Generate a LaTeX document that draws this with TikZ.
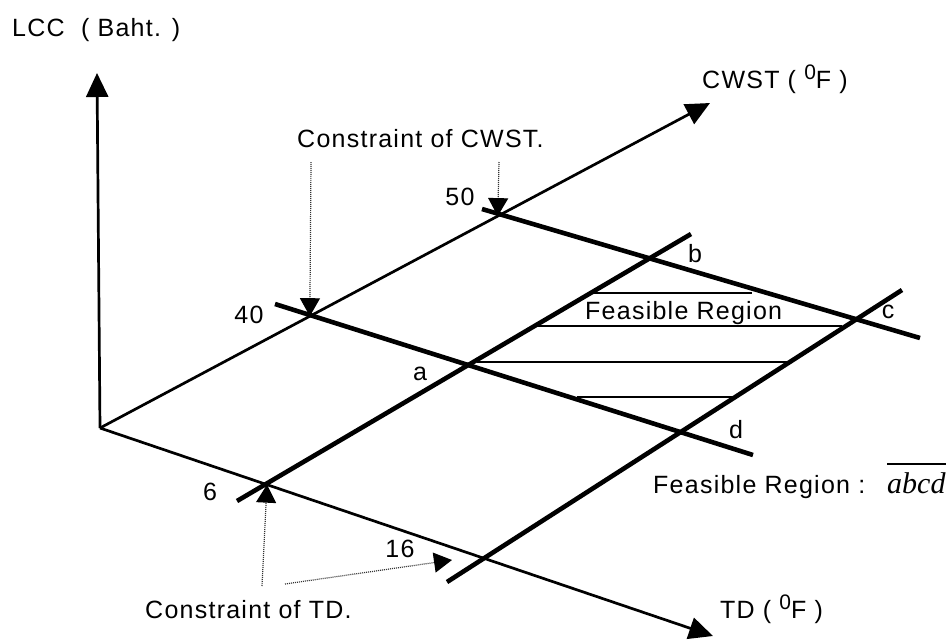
\documentclass[tikz,border=0pt]{standalone}
\usepackage{fontspec}
\setmainfont{Liberation Sans}[LetterSpace=5]
\newfontfamily\abcdfont{Liberation Serif}
\usetikzlibrary{arrows.meta,calc}

% raised degree-style zero used in the unit labels
\newcommand\degzero{\raisebox{9pt}{\fontsize{21}{21}\selectfont 0}}

\begin{document}
\begin{tikzpicture}[x=1pt,y=-1pt,
  axis/.style={line width=2.7pt},
  axisarrow/.style={axis,-{Triangle[length=24pt,width=22pt]}},
  bound/.style={line width=4.6pt},
  hatch/.style={line width=1.8pt},
  leader/.style={line width=1.2pt,black!80,dash pattern=on 1pt off 1pt,
                 -{Triangle[length=18pt,width=20pt,color=black]}},
  lbl/.style={inner sep=0pt,anchor=base west,font=\fontsize{25}{30}\selectfont},
  tick/.style={inner sep=0pt,anchor=base,font=\fontsize{25}{30}\selectfont},
]
\fill[white] (0,0) rectangle (951,641);
\useasboundingbox (0,0) rectangle (951,641);

% axes
\coordinate (O) at (100,428);
\coordinate (lcctip) at (97,73);
\coordinate (cwtip) at (710,103);
\coordinate (tdtip) at (713,636);
\draw[axisarrow] (O) -- (lcctip);
\draw[axisarrow] (O) -- (cwtip);
\draw[axisarrow] (O) -- (tdtip);

% constraint points on the axes
\coordinate (p40) at ($(O)!0.344!(cwtip)$);
\coordinate (p50) at ($(O)!0.652!(cwtip)$);
\coordinate (p6)  at ($(O)!0.2724!(tdtip)$);
\coordinate (p16) at ($(O)!0.623!(tdtip)$);

% constraint lines (end points)
\coordinate (c40s) at (275,304);  \coordinate (c40e) at (753,455);
\coordinate (c50s) at (482,209);  \coordinate (c50e) at (920,338);
\coordinate (t6s)  at (237,501);  \coordinate (t6e)  at (691,234);
\coordinate (t16s) at (447,582);  \coordinate (t16e) at (902,290);
\draw[bound] (c40s) -- (c40e);
\draw[bound] (c50s) -- (c50e);
\draw[bound] (t6s) -- (t6e);
\draw[bound] (t16s) -- (t16e);

% corners of the feasible region
\coordinate (a) at (intersection of c40s--c40e and t6s--t6e);
\coordinate (b) at (intersection of c50s--c50e and t6s--t6e);
\coordinate (c) at (intersection of c50s--c50e and t16s--t16e);
\coordinate (d) at (intersection of c40s--c40e and t16s--t16e);

% hatching of the feasible region
\coordinate (h1l) at (593,293); \coordinate (h1r) at (752,293);
\coordinate (h2l) at (538,326); \coordinate (h2r) at (842,326);
\coordinate (h3l) at (477,362); \coordinate (h3r) at (788,362);
\coordinate (h4l) at (577,397); \coordinate (h4r) at (735,397);
\draw[hatch] (h1l) -- (h1r);
\draw[hatch] (h2l) -- (h2r);
\draw[hatch] (h3l) -- (h3r);
\draw[hatch] (h4l) -- (h4r);

% axis titles
\node[lbl] (lcc) at (12,36) {LCC\ \ ( Baht. )};
\node[lbl] (cwst) at (702,88) {CWST ( \degzero F )};
\node[lbl] (td) at (720,618) {TD ( \degzero F )};

% tick values
\node[tick] (n50) at (460,205) {50};
\node[tick] (n40) at (249,323) {40};
\node[tick] (n6)  at (210,500) {6};
\node[tick] (n16) at (400,557) {16};

% corner letters
\node[tick] (la) at (420,380) {a};
\node[tick] (lb) at (695,262) {b};
\node[tick] (lc) at (888,318) {c};
\node[tick] (ld) at (736,438) {d};

% region labels
\node[lbl] (fr) at (585,319) {Feasible Region};
\node[lbl] (frkey) at (653,493) {Feasible Region :};
\node[inner sep=0pt,anchor=base west,font=\abcdfont\itshape\fontsize{30}{36}\selectfont]
  (abcd) at (887,493) {abcd};
\draw[line width=1.6pt] ([yshift=8pt]abcd.north west) -- ([yshift=8pt]abcd.north east);

% constraint captions with leader arrows
\node[lbl] (ccw) at (297,147) {Constraint of CWST.};
\node[lbl] (ctd) at (145,618) {Constraint of TD.};
\coordinate (ccw1) at (311,162);
\coordinate (ccw2) at (499,162);
\coordinate (ctd1) at (262,586);
\coordinate (ctd2) at (285,584);
\coordinate (t16tip) at (452,560);
\draw[leader] (ccw1) -- (p40);
\draw[leader] (ccw2) -- (p50);
\draw[leader] (ctd1) -- (p6);
\draw[leader] (ctd2) -- (t16tip);
\end{tikzpicture}
\end{document}
